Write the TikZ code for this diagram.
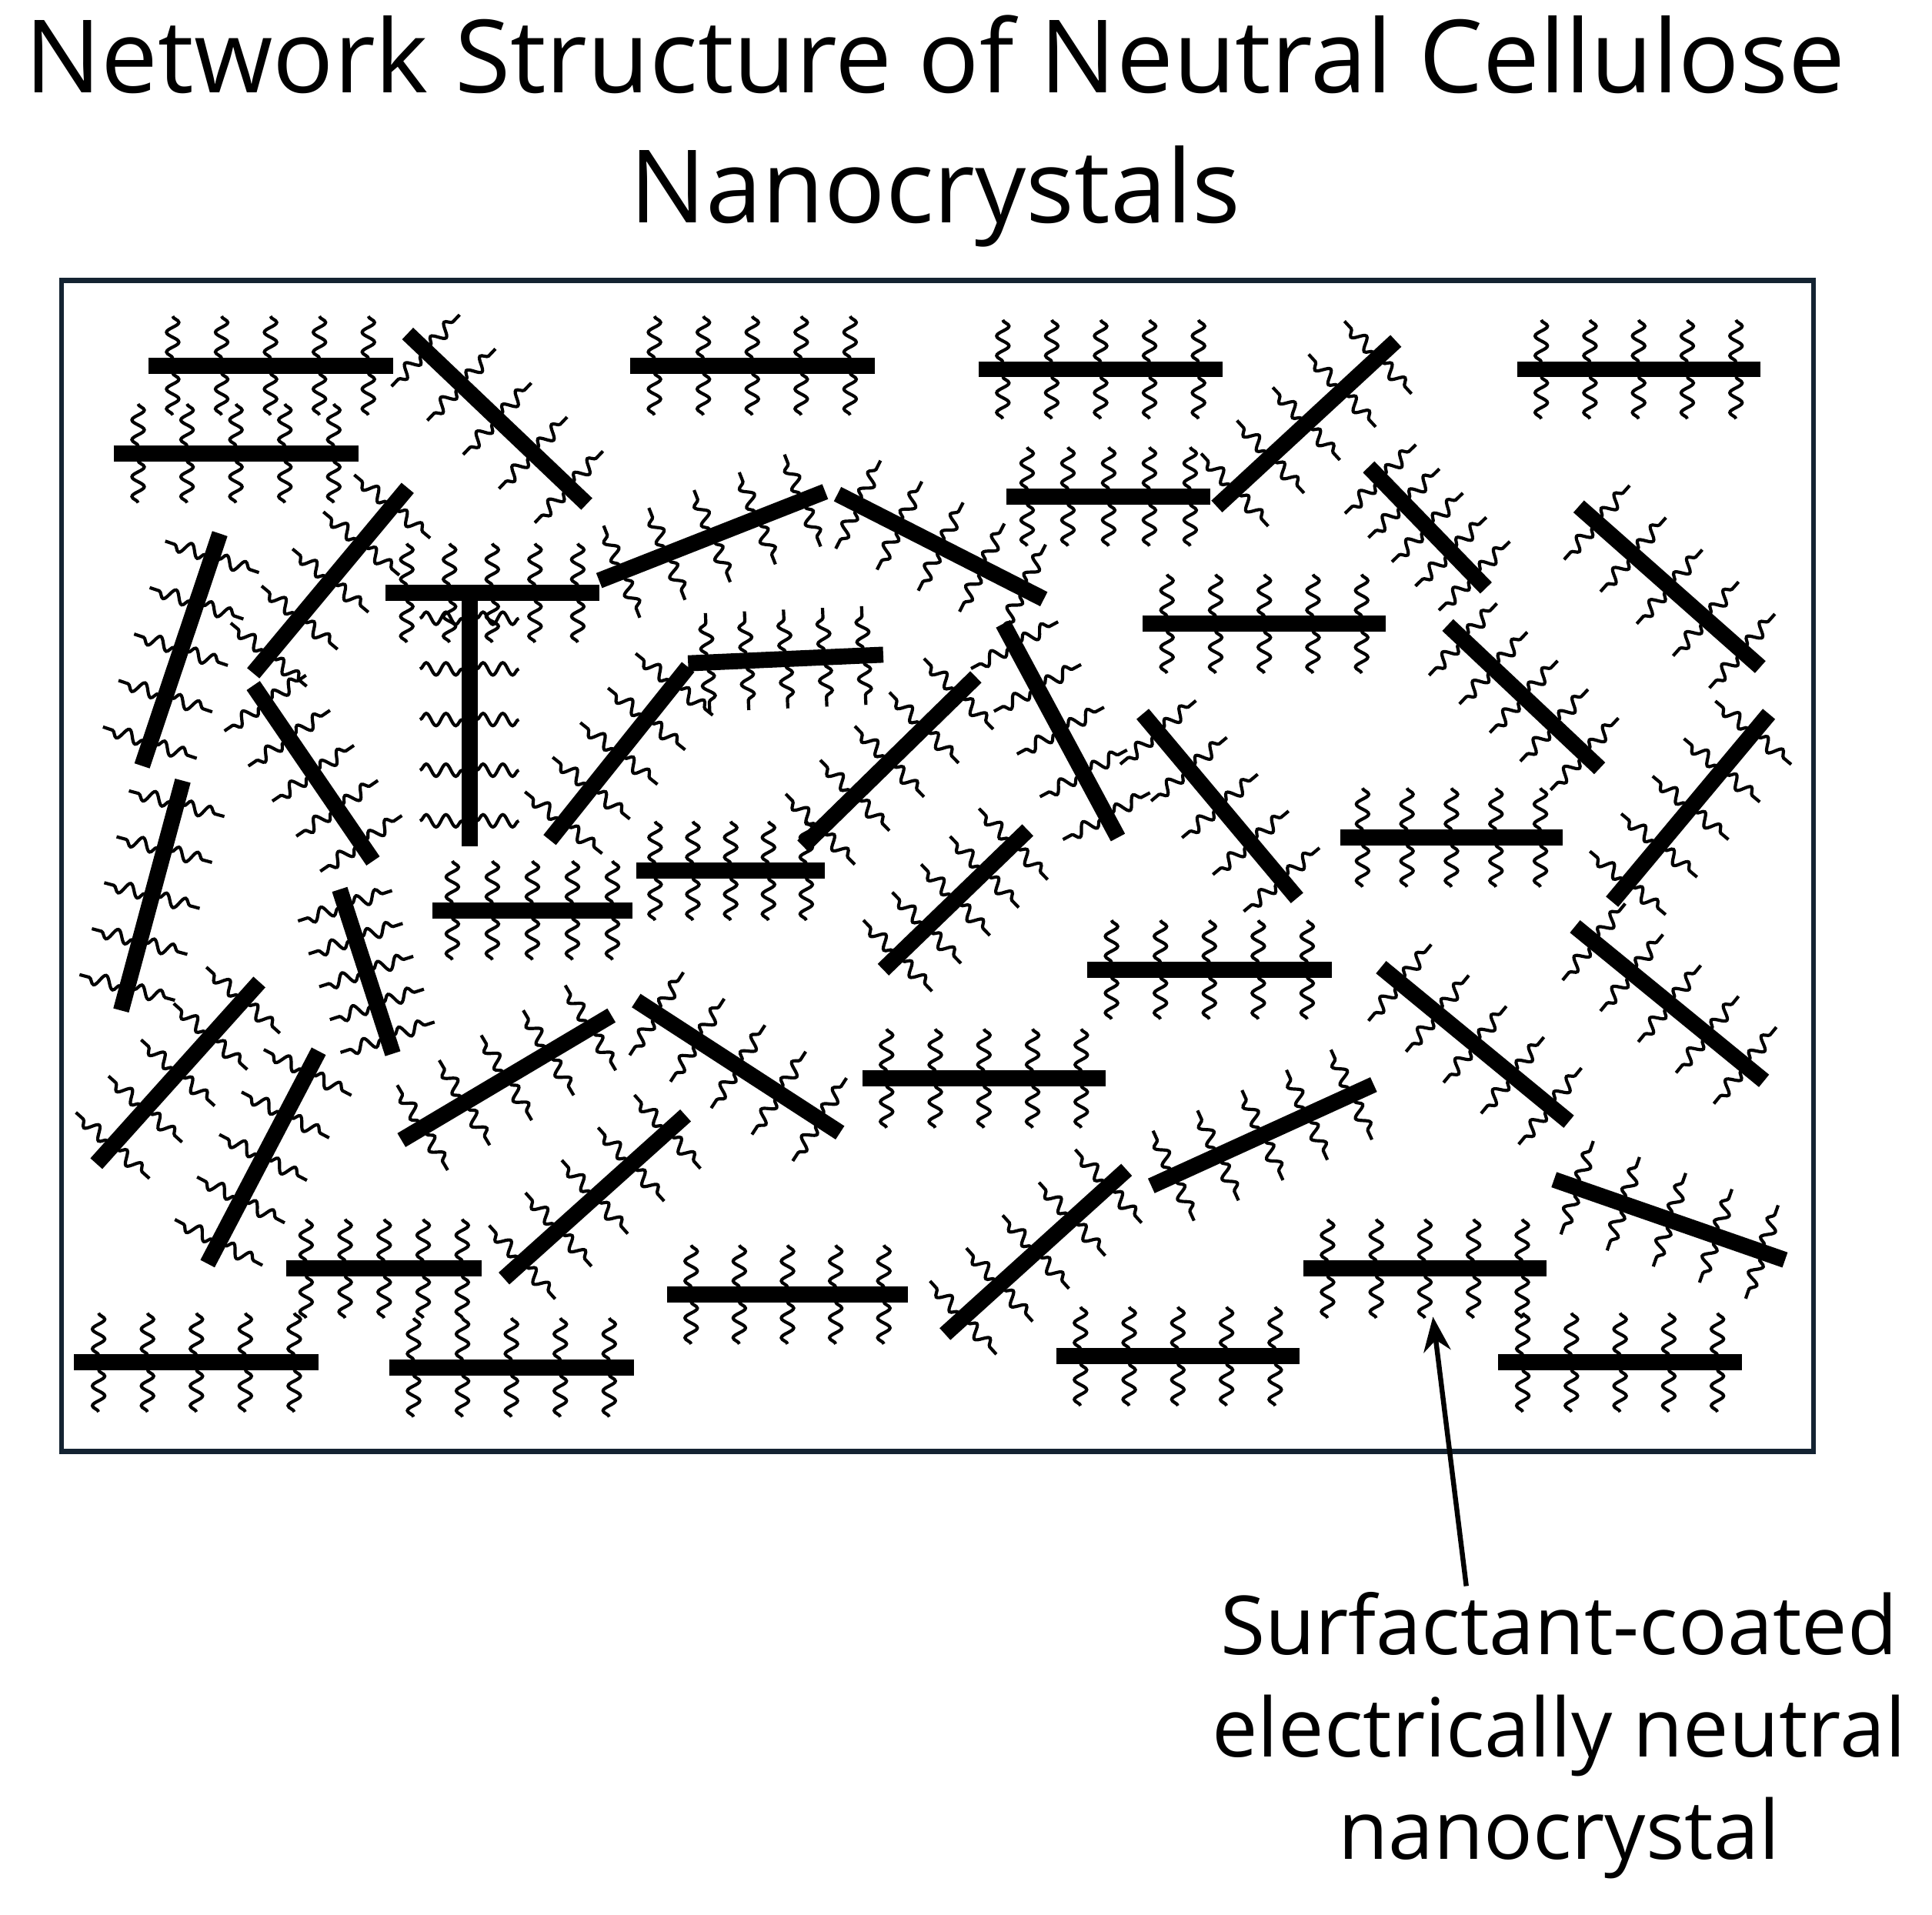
\documentclass[tikz,border=0pt]{standalone}
\usepackage{fontspec}
\setmainfont{Open Sans}
\usetikzlibrary{calc,decorations.pathmorphing,arrows.meta}
\tikzset{
  rodline/.style={line width=13pt,black},
  hair/.style={line width=2.6pt,black,decorate,decoration={snake,amplitude=5pt,segment length=16pt}},
  frame/.style={line width=4pt,draw={rgb,255:red,20;green,35;blue,50}},
  ttl/.style={font=\fontsize{82}{105}\selectfont,align=center},
  lbl/.style={font=\fontsize{66}{83}\selectfont,align=center}
}
\newcommand\rodx[4]{%
  \coordinate (ra) at (#1,#2); \coordinate (rb) at (#3,#4);
  \foreach \t in {0.1,0.3,0.5,0.7,0.9}{
    \coordinate (rp) at ($(ra)!\t!(rb)$);
    \draw[hair] ($(rp)!6pt!90:(rb)$) -- ($(rp)!40pt!90:(rb)$);
    \draw[hair] ($(rp)!6pt!-90:(rb)$) -- ($(rp)!40pt!-90:(rb)$);
  }
  \draw[rodline] (ra) -- (rb);}
\begin{document}
\begin{tikzpicture}[x=1pt,y=-1pt]
\useasboundingbox (0,0) rectangle (1564,1550);
\node[ttl] (title) at (757,106) {Network Structure of Neutral Cellulose\\Nanocrystals};
\rodx{120}{296}{318}{296}
\rodx{92}{367}{290}{367}
\rodx{330}{270}{475}{408}
\rodx{510}{296}{708}{296}
\rodx{792}{299}{990}{299}
\rodx{1228}{299}{1425}{299}
\rodx{815}{402}{980}{402}
\rodx{985}{410}{1130}{276}
\rodx{1108}{378}{1203}{476}
\rodx{1278}{410}{1425}{540}
\rodx{205}{545}{330}{395}
\rodx{312}{480}{485}{480}
\rodx{380}{480}{380}{685}
\rodx{485}{470}{668}{398}
\rodx{678}{400}{845}{485}
\rodx{925}{505}{1122}{505}
\rodx{1172}{506}{1295}{622}
\rodx{115}{620}{178}{432}
\rodx{205}{555}{302}{697}
\rodx{445}{680}{557}{540}
\rodx{557}{537}{715}{530}
\rodx{650}{685}{790}{548}
\rodx{812}{505}{905}{678}
\rodx{925}{578}{1050}{727}
\rodx{1085}{678}{1265}{678}
\rodx{1305}{730}{1432}{578}
\rodx{98}{818}{148}{632}
\rodx{350}{737}{512}{737}
\rodx{515}{705}{668}{705}
\rodx{715}{785}{832}{672}
\rodx{880}{785}{1078}{785}
\rodx{1275}{750}{1428}{875}
\rodx{275}{720}{318}{853}
\rodx{78}{942}{210}{795}
\rodx{325}{923}{495}{822}
\rodx{515}{810}{680}{917}
\rodx{698}{873}{895}{873}
\rodx{1118}{783}{1270}{908}
\rodx{168}{1023}{258}{851}
\rodx{408}{1035}{555}{903}
\rodx{932}{960}{1112}{878}
\rodx{1258}{955}{1445}{1020}
\rodx{232}{1027}{390}{1027}
\rodx{540}{1048}{735}{1048}
\rodx{765}{1080}{912}{947}
\rodx{1055}{1027}{1252}{1027}
\rodx{60}{1103}{258}{1103}
\rodx{315}{1107}{513}{1107}
\rodx{855}{1098}{1052}{1098}
\rodx{1213}{1103}{1410}{1103}
\draw[frame] (50,227) rectangle (1468,1175);
\node[lbl] (lab) at (1262,1405) {Surfactant-coated\\electrically neutral\\nanocrystal};
\coordinate (tip) at (1160,1066);
\draw[line width=4pt,-{Stealth[length=28pt,width=22pt]}] (1187,1284) -- (tip);
\end{tikzpicture}
\end{document}
